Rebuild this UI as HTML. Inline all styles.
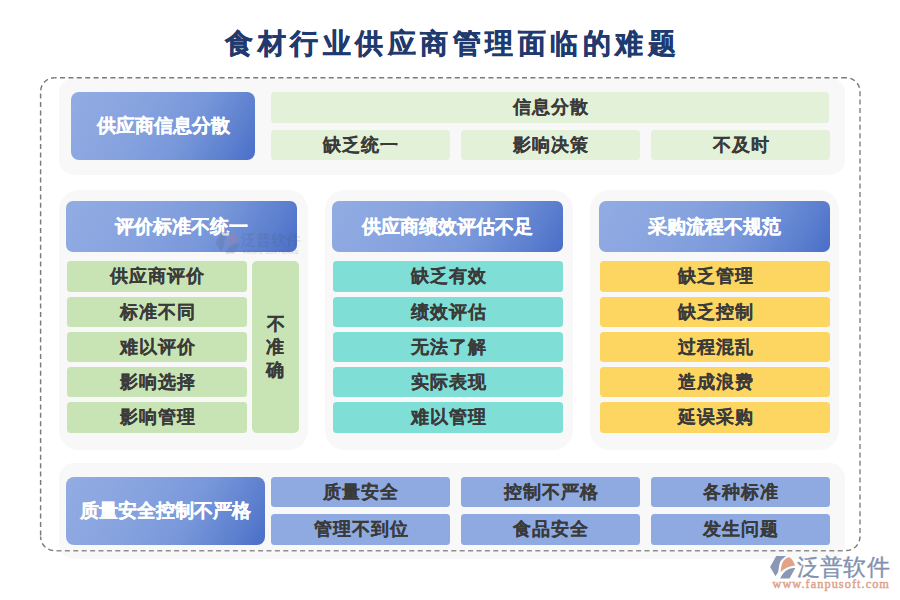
<!DOCTYPE html>
<html><head><meta charset="utf-8">
<style>
*{margin:0;padding:0;box-sizing:border-box}
html,body{width:900px;height:600px;overflow:hidden;background:#fff}
body{position:relative;font-family:"Liberation Sans",sans-serif;font-weight:bold}
.a{position:absolute}
.t{display:flex;align-items:center;justify-content:center;white-space:nowrap}
.title{left:225px;top:24px;height:40px;font-size:28px;letter-spacing:4.5px;color:#1f3a6e;-webkit-text-stroke:0.4px #1f3a6e;justify-content:flex-start}
.pnl{background:#f8f8f8}
.hd{background:linear-gradient(120deg,#92ace3 0%,#87a3df 35%,#7897da 62%,#5d80cf 85%,#4a6ec8 100%);color:#fff;font-size:19px;-webkit-text-stroke:0.25px #fff}
.bar{padding-bottom:1px;color:#3a3a3a;font-size:18px;letter-spacing:1px;text-indent:1px;border-radius:3.5px;-webkit-text-stroke:0.1px #3a3a3a}
.lg{background:#e3f1d8}
.g{background:#c9e4b4}
.c{background:#7fded6}
.y{background:#fcd660}
.b{background:#8eaae0}
</style></head><body>
<div class="a t title">食材行业供应商管理面临的难题</div>

<!-- row1 -->
<div class="a pnl" style="left:59px;top:78px;width:786px;height:97px;border-radius:15px"></div>
<div class="a t hd" style="left:71px;top:92px;width:184px;height:68px;border-radius:8px">供应商信息分散</div>
<div class="a t bar lg" style="left:271px;top:92px;width:558px;height:31px">信息分散</div>
<div class="a t bar lg" style="left:271px;top:130px;width:179px;height:30px">缺乏统一</div>
<div class="a t bar lg" style="left:461px;top:130px;width:179px;height:30px">影响决策</div>
<div class="a t bar lg" style="left:651px;top:130px;width:179px;height:30px">不及时</div>

<!-- row2 panels -->
<div class="a pnl" style="left:59px;top:190px;width:249px;height:260px;border-radius:20px"></div>
<div class="a pnl" style="left:325px;top:190px;width:248px;height:260px;border-radius:20px"></div>
<div class="a pnl" style="left:590px;top:190px;width:249px;height:260px;border-radius:20px"></div>

<div class="a t hd" style="left:66px;top:201px;width:231px;height:51px;border-radius:7px">评价标准不统一</div>
<div class="a t hd" style="left:332px;top:201px;width:231px;height:51px;border-radius:7px">供应商绩效评估不足</div>
<div class="a t hd" style="left:599px;top:201px;width:231px;height:51px;border-radius:7px">采购流程不规范</div>
<!-- watermark -->
<div class="a" style="left:215px;top:232px;width:90px;height:24px;opacity:0.25">
<svg class="a" style="left:0;top:0" width="26" height="22" viewBox="2 3 26 23">
<path d="M8.2,3 L18,3 C14.5,5.5 12.2,8 11.5,11 C10.8,14 10.6,17 10.2,19 L7.5,23.3 L2.1,14 Z" fill="#5a6a8a"/>
<path d="M12.6,19.1 C12.8,15 13.6,10 15.8,7.5 C17.5,5.5 19.5,4.3 21.2,4.2 C23.8,5.5 26,9 27.1,12.6 C21.5,13 16.5,15.5 12.6,19.1 Z" fill="#c08080"/>
<path d="M27.3,14.9 L21.5,25.4 L12.1,25.4 C14,21.5 17,17.5 21,16 C23,15.2 25,14.9 27.3,14.9 Z" fill="#5a6a8a"/>
</svg>
<div class="a" style="left:26px;top:-2px;font-size:14.5px;font-weight:normal;color:#4a5a7a;white-space:nowrap;line-height:20px">泛普软件</div>
<div class="a" style="left:28px;top:17px;font-size:5px;font-weight:normal;color:#4a5a7a;white-space:nowrap;line-height:6px;letter-spacing:0.7px">FANPU SOFTWARE</div>
</div>


<div class="a t bar g" style="left:67px;top:261px;width:180px;height:31px">供应商评价</div>
<div class="a t bar g" style="left:67px;top:297px;width:180px;height:30px">标准不同</div>
<div class="a t bar g" style="left:67px;top:332px;width:180px;height:30px">难以评价</div>
<div class="a t bar g" style="left:67px;top:367px;width:180px;height:30px">影响选择</div>
<div class="a t bar g" style="left:67px;top:402px;width:180px;height:31px">影响管理</div>
<div class="a t bar g" style="left:252px;top:261px;width:47px;height:172px;border-radius:5px;white-space:normal;line-height:23px;text-align:center;padding:0 14px">不准确</div>

<div class="a t bar c" style="left:333px;top:261px;width:230px;height:31px">缺乏有效</div>
<div class="a t bar c" style="left:333px;top:297px;width:230px;height:30px">绩效评估</div>
<div class="a t bar c" style="left:333px;top:332px;width:230px;height:30px">无法了解</div>
<div class="a t bar c" style="left:333px;top:367px;width:230px;height:30px">实际表现</div>
<div class="a t bar c" style="left:333px;top:402px;width:230px;height:31px">难以管理</div>

<div class="a t bar y" style="left:600px;top:261px;width:230px;height:31px">缺乏管理</div>
<div class="a t bar y" style="left:600px;top:297px;width:230px;height:30px">缺乏控制</div>
<div class="a t bar y" style="left:600px;top:332px;width:230px;height:30px">过程混乱</div>
<div class="a t bar y" style="left:600px;top:367px;width:230px;height:30px">造成浪费</div>
<div class="a t bar y" style="left:600px;top:402px;width:230px;height:31px">延误采购</div>

<!-- row3 -->
<div class="a pnl" style="left:59px;top:463px;width:786px;height:96px;border-radius:15px"></div>
<div class="a t hd" style="left:66px;top:477px;width:199px;height:68px;border-radius:8px">质量安全控制不严格</div>
<div class="a t bar b" style="left:271px;top:477px;width:179px;height:30px">质量安全</div>
<div class="a t bar b" style="left:461px;top:477px;width:179px;height:30px">控制不严格</div>
<div class="a t bar b" style="left:651px;top:477px;width:179px;height:30px">各种标准</div>
<div class="a t bar b" style="left:271px;top:514px;width:179px;height:31px">管理不到位</div>
<div class="a t bar b" style="left:461px;top:514px;width:179px;height:31px">食品安全</div>
<div class="a t bar b" style="left:651px;top:514px;width:179px;height:31px">发生问题</div>

<!-- dashed border -->
<svg class="a" style="left:0;top:0" width="900" height="600"><g fill="none" stroke="#7a7a7a" stroke-width="1.45" stroke-dasharray="5 3.4">
<path d="M54.6,77.75 H846" stroke-dashoffset="3"/>
<path d="M846,77.75 A13.85,13.85 0 0 1 860,91.6" stroke-dashoffset="4"/>
<path d="M860,91.6 V536.6" stroke-dashoffset="0.4" stroke="#858585"/>
<path d="M860,536.6 A14,14 0 0 1 846,550.6" stroke-dashoffset="0.2"/>
<path d="M54.6,550.8 H846" stroke-dashoffset="6.5" stroke="#8e8e8e" stroke-width="1.5"/>
<path d="M54.6,550.6 A14,14 0 0 1 40.6,536.6" stroke-dashoffset="6.9"/>
<path d="M40.6,91.6 V536.6" stroke-dashoffset="6.4"/>
<path d="M40.6,91.6 A14,13.85 0 0 1 54.6,77.75" stroke-dashoffset="7"/>
</g></svg>


<!-- logo -->
<svg class="a" style="left:768px;top:553px" width="30" height="28" viewBox="0 0 30 28">
<path d="M8.2,3 L18,3 C14.5,5.5 12.2,8 11.5,11 C10.8,14 10.6,17 10.2,19 L7.5,23.3 L2.1,14 Z" fill="#8a97b5"/>
<path d="M12.6,19.1 C12.8,15 13.6,10 15.8,7.5 C17.5,5.5 19.5,4.3 21.2,4.2 C23.8,5.5 26,9 27.1,12.6 C21.5,13 16.5,15.5 12.6,19.1 Z" fill="#e3a286"/>
<path d="M27.3,14.9 L21.5,25.4 L12.1,25.4 C14,21.5 17,17.5 21,16 C23,15.2 25,14.9 27.3,14.9 Z" fill="#8a97b5"/>
</svg>
<div class="a" style="left:796.5px;top:550px;font-size:23px;letter-spacing:0.4px;font-weight:normal;color:#8391ae;-webkit-text-stroke:0.35px #8391ae;white-space:nowrap;line-height:34px">泛普软件</div>
<div class="a" style="left:772.5px;top:577px;font-family:'Liberation Serif',serif;font-size:12.3px;font-weight:normal;-webkit-text-stroke:0.45px #dea288;color:#dea288;white-space:nowrap;line-height:14px;letter-spacing:1.05px">www.fanpusoft.com</div>
</body></html>
